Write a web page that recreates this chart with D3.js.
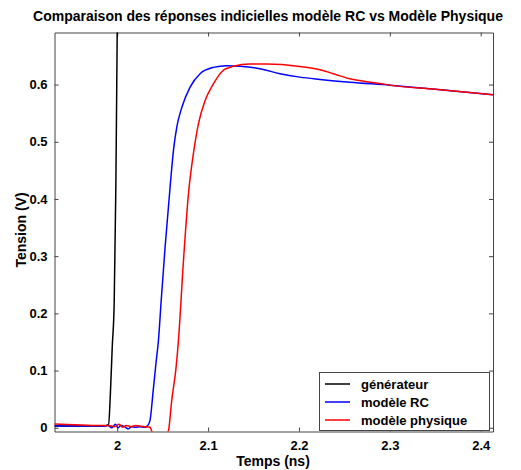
<!DOCTYPE html>
<html><head><meta charset="utf-8">
<script src="https://cdn.jsdelivr.net/npm/d3@7"></script>
<style>
body{margin:0;background:#fff;}
text{font-family:"Liberation Sans",Arial,sans-serif;font-weight:bold;fill:#000;}
</style></head>
<body><svg id="c" width="521" height="470"></svg>
<script>
const title = "Comparaison des réponses indicielles modèle RC vs Modèle Physique";
const xLabel = "Temps (ns)";
const yLabel = "Tension (V)";
const xTicks = [2, 2.1, 2.2, 2.3, 2.4];
const yTicks = [0, 0.1, 0.2, 0.3, 0.4, 0.5, 0.6];
const seriesNames = ["générateur", "modèle RC", "modèle physique"];
const seriesColors = ["#000000", "#0000ff", "#ff0000"];

const genT = [1.931, 1.96, 1.985, 1.9905, 1.9925, 1.9945, 1.9967, 1.9985, 2.0, 2.002];
const genV = [0.003, 0.003, 0.003, 0.006, 0.06, 0.14, 0.22, 0.42, 0.69, 0.95];

const rcT = [1.931, 1.96, 1.985, 1.99, 1.994, 1.998, 2.001, 2.004, 2.008, 2.012, 2.016, 2.02, 2.025, 2.03, 2.033, 2.036, 2.0396, 2.043, 2.0454, 2.0484, 2.0527, 2.0582, 2.0619, 2.0656, 2.0711, 2.0802, 2.0912, 2.1058, 2.1205, 2.1352, 2.1571, 2.1791, 2.2011, 2.2231, 2.256, 2.3, 2.35, 2.414];
const rcV = [0.003, 0.003, 0.003, 0.004, 0.0, 0.006, 0.0, 0.004, 0.002, -0.002, 0.002, 0.001, 0.002, 0.001, 0.003, 0.012, 0.065, 0.118, 0.153, 0.2226, 0.316, 0.421, 0.485, 0.526, 0.560, 0.5955, 0.619, 0.630, 0.633, 0.632, 0.6276, 0.619, 0.613, 0.609, 0.604, 0.599, 0.592, 0.582];

const physT = [1.931, 1.96, 1.985, 1.99, 1.997, 2.002, 2.006, 2.01, 2.015, 2.02, 2.03, 2.036, 2.040, 2.054, 2.0564, 2.060, 2.0648, 2.0674, 2.0729, 2.0784, 2.0838, 2.0893, 2.0967, 2.1058, 2.1168, 2.1242, 2.1278, 2.146, 2.1645, 2.201, 2.223, 2.2377, 2.256, 2.289, 2.3, 2.35, 2.414];
const physV = [0.0065, 0.005, 0.004, 0.004, 0.002, 0.006, 0.001, 0.004, 0.002, 0.004, 0.002, 0.001, -0.012, -0.012, -0.005, 0.048, 0.106, 0.153, 0.292, 0.409, 0.479, 0.531, 0.572, 0.601, 0.625, 0.630, 0.632, 0.636, 0.636, 0.6317, 0.626, 0.619, 0.610, 0.602, 0.599, 0.592, 0.582];

const svg = d3.select("#c");
const L = 54.5, R = 493, T = 32.5, B = 431.5;
const x = d3.scaleLinear().domain([1.931, 2.4135]).range([L, R]);
const y = d3.scaleLinear().domain([-0.0065, 0.691]).range([B, T]);

svg.append("defs").append("clipPath").attr("id","clip")
  .append("rect").attr("x",L).attr("y",T).attr("width",R-L).attr("height",B-T);

const axisColor = "#444";
const gx = svg.append("g").attr("transform",`translate(0,${B})`)
  .call(d3.axisBottom(x).tickValues(xTicks).tickSizeInner(-4).tickSizeOuter(0).tickPadding(9).tickFormat(d3.format("")));
const gxt = svg.append("g").attr("transform",`translate(0,${T})`)
  .call(d3.axisTop(x).tickValues(xTicks).tickSizeInner(-4).tickSizeOuter(0).tickFormat(""));
const gy = svg.append("g").attr("transform",`translate(${L},0)`)
  .call(d3.axisLeft(y).tickValues(yTicks).tickSizeInner(-4).tickSizeOuter(0).tickPadding(7).tickFormat(d3.format("")));
const gyr = svg.append("g").attr("transform",`translate(${R},0)`)
  .call(d3.axisRight(y).tickValues(yTicks).tickSizeInner(-4).tickSizeOuter(0).tickFormat(""));
[gx,gxt,gy,gyr].forEach(g=>{
  g.selectAll(".domain").attr("stroke",axisColor);
  g.selectAll(".tick line").attr("stroke",axisColor);
  g.selectAll(".tick text").style("font-size","13px").style("font-family","'Liberation Sans',Arial,sans-serif").style("font-weight","bold").attr("fill","#000");
});

const line = d3.line().x(d=>x(d[0])).y(d=>y(d[1])).curve(d3.curveMonotoneX);
const plot = svg.append("g").attr("clip-path","url(#clip)");
const data = [d3.zip(genT,genV), d3.zip(rcT,rcV), d3.zip(physT,physV)];
data.forEach((d,i)=>{
  plot.append("path").datum(d).attr("d",line).attr("fill","none")
    .attr("stroke",seriesColors[i]).attr("stroke-width",1.5);
});

const lg = svg.append("g");
lg.append("rect").attr("x",319.5).attr("y",372.5).attr("width",170).attr("height",58)
  .attr("fill","#fff").attr("stroke","#444");
seriesNames.forEach((n,i)=>{
  const yy = 384 + i*18;
  lg.append("line").attr("x1",325).attr("x2",350).attr("y1",yy).attr("y2",yy)
    .attr("stroke",seriesColors[i]).attr("stroke-width",1.5);
  lg.append("text").attr("x",361).attr("y",yy+4.5).style("font-size","13px").text(n);
});

svg.append("text").attr("x",268).attr("y",21).attr("text-anchor","middle").style("font-size","14px").text(title);
svg.append("text").attr("x",273).attr("y",466).attr("text-anchor","middle").style("font-size","14px").text(xLabel);
svg.append("text").attr("transform","translate(26,230) rotate(-90)").attr("text-anchor","middle").style("font-size","14px").text(yLabel);
</script></body></html>
